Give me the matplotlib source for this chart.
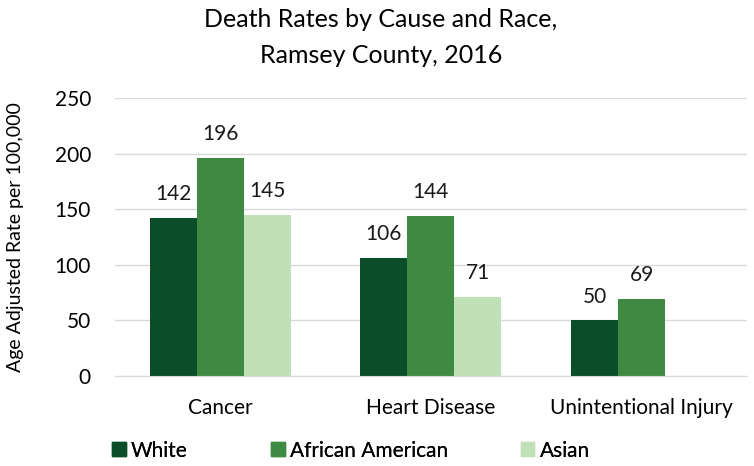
import numpy as np
import matplotlib.pyplot as plt
from matplotlib.patches import Patch

plt.rcParams['font.family'] = ['Lato', 'DejaVu Sans']

causes = ["Cancer", "Heart Disease", "Unintentional Injury"]
races = ["White", "African American", "Asian"]
white = [142, 106, 50]
african_american = [196, 144, 69]
asian = [145, 71, np.nan]  # no value shown for Asian unintentional injury
colors = ["#0a4d28", "#3f8a43", "#c0e0b8"]

fs = 15
fig = plt.figure(figsize=(7.54, 4.66), dpi=100)
ax = fig.add_axes([0.152, 0.193, 0.839, 0.597])

x = np.arange(len(causes))
w = 0.223
series = [white, african_american, asian]
for i, vals in enumerate(series):
    pos = x + (i - 1) * w
    ax.bar(pos, vals, width=w, color=colors[i], zorder=2)
    for px, v in zip(pos, vals):
        if not np.isnan(v):
            ax.annotate(f"{v:.0f}", (px, v), xytext=(0, 10), textcoords="offset points",
                        ha="center", va="bottom", fontsize=fs, color="#1a1a1a")

ax.set_xlim(-0.5, 2.5)
ax.set_ylim(0, 250)
ax.set_yticks(range(0, 251, 50))
ax.set_xticks(x)
ax.set_xticklabels(causes, fontsize=fs)
ax.tick_params(axis="y", labelsize=fs, length=0, pad=17)
ax.tick_params(axis="x", length=0, pad=16)
ax.grid(axis="y", color="#d9d9d9", linewidth=1, zorder=0)
for s in ["top", "right", "left"]:
    ax.spines[s].set_visible(False)
ax.spines["bottom"].set_color("#d9d9d9")
ax.set_ylabel("Age Adjusted Rate per 100,000", fontsize=14, labelpad=22)

fig.text(0.505, 0.958, "Death Rates by Cause and Race,", ha="center", va="center", fontsize=18)
fig.text(0.505, 0.880, "Ramsey County, 2016", ha="center", va="center", fontsize=18)

# legend entries spread out like the original
legend_x = [0.135, 0.346, 0.677]
for lx, name, c in zip(legend_x, races, colors):
    leg = fig.legend(handles=[Patch(color=c)], labels=[name], loc="center left",
                     bbox_to_anchor=(lx, 0.033), frameon=False, fontsize=fs,
                     handlelength=0.65, handleheight=0.65, handletextpad=0.25, borderpad=0)
    fig.add_artist(leg)

fig.savefig("out.png")
